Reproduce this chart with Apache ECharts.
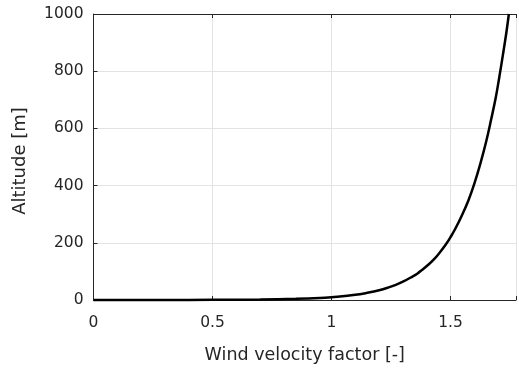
<!DOCTYPE html>
<html><head><meta charset="utf-8">
<script src="https://cdn.jsdelivr.net/npm/echarts@6/dist/echarts.min.js"></script>
<style>html,body{margin:0;padding:0;background:#fff}#c{width:519px;height:369px}</style>
</head><body><div id="c"></div>
<script>
const velocity = [0, 0.3, 0.5, 0.6, 0.7, 0.85, 0.95, 1.0, 1.1, 1.15, 1.2, 1.24, 1.27, 1.3, 1.34, 1.36, 1.38, 1.41, 1.43, 1.45, 1.48, 1.5, 1.52, 1.55, 1.575, 1.6, 1.625, 1.65, 1.67, 1.69, 1.705, 1.72, 1.735, 1.745];
const altitude = [0, 0.1, 0.5, 0.8, 1.5, 4, 7, 10, 18, 25, 34, 44, 53, 64, 82, 92, 105, 126, 142, 161, 194, 220, 249, 300, 348, 407, 476, 555, 629, 708, 780, 857, 938, 1000];
const xTicks = [0, 0.5, 1, 1.5];
const yTicks = [0, 200, 400, 600, 800, 1000];

const txt = '#262626';
const font = 'DejaVu Sans, Liberation Sans, Arial, sans-serif';
const chart = echarts.init(document.getElementById('c'), null, {renderer: 'canvas'});
const axLine = {show: true, lineStyle: {color: txt, width: 1}};
chart.setOption({
  animation: false,
  grid: {left: 93.5, top: 14, width: 428, height: 289},
  xAxis: [{
    type: 'value', min: 0, max: 1.775, interval: 0.5,
    axisLine: axLine,
    axisTick: {show: true, inside: true, length: 4, lineStyle: {color: txt}},
    axisLabel: {color: txt, fontSize: 15.5, fontFamily: font, margin: 15,
      formatter: v => xTicks.includes(v) ? String(v) : ''},
    splitLine: {show: true, lineStyle: {color: '#e3e3e3', width: 1}},
    name: 'Wind velocity factor [-]', nameLocation: 'middle', nameGap: 46,
    nameTextStyle: {color: txt, fontSize: 17.5, fontFamily: font}
  }, {
    type: 'value', position: 'top', min: 0, max: 1.775, interval: 0.5,
    axisLine: axLine,
    axisTick: {show: true, inside: true, length: 4, lineStyle: {color: txt}},
    axisLabel: {show: false}, splitLine: {show: false}
  }],
  yAxis: [{
    type: 'value', min: 0, max: 1000, interval: 200,
    axisLine: axLine,
    axisTick: {show: true, inside: true, length: 4, lineStyle: {color: txt}},
    axisLabel: {color: txt, fontSize: 15.5, fontFamily: font, margin: 10,
      formatter: v => yTicks.includes(v) ? String(v) : ''},
    splitLine: {show: true, lineStyle: {color: '#e3e3e3', width: 1}},
    name: 'Altitude [m]', nameLocation: 'middle', nameGap: 64,
    nameTextStyle: {color: txt, fontSize: 18, fontFamily: font, padding: [0, 8, 0, 0]}
  }],
  series: [{
    type: 'line', xAxisIndex: 0, yAxisIndex: 0,
    data: velocity.map((v, i) => [v, altitude[i]]),
    smooth: 0.4, smoothMonotone: 'none', showSymbol: false, clip: false,
    lineStyle: {color: '#000', width: 2.5}
  }]
});
</script></body></html>
